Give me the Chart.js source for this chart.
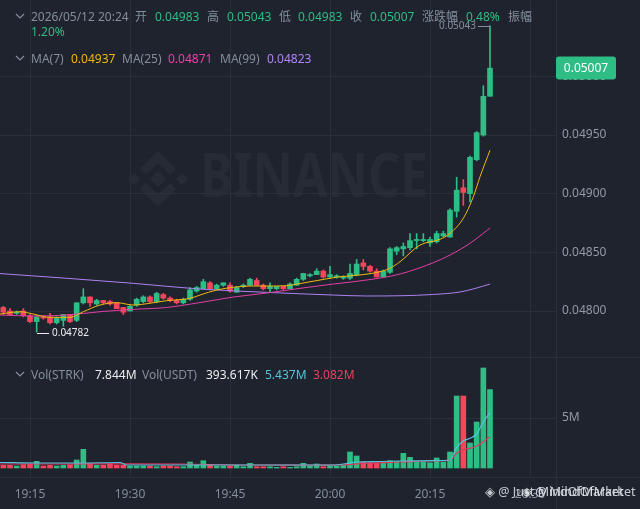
<!DOCTYPE html>
<html>
<head>
<meta charset="utf-8">
<script src="https://cdn.jsdelivr.net/npm/chart.js@4.4.1/dist/chart.umd.min.js"></script>
<style>
html, body { margin: 0; padding: 0; background: #1e232d; width: 640px; height: 509px; overflow: hidden; }
body { font-family: "Noto Sans", "Noto Sans CJK SC", sans-serif; }
#wrap { position: relative; width: 640px; height: 509px; }
#wm { position: absolute; left: 0; top: 0; z-index: 0; }
#pricebox { position: absolute; left: 0; top: 0; width: 640px; height: 357px; z-index: 1; }
#volbox { position: absolute; left: 0; top: 357px; width: 640px; height: 152px; z-index: 1; }
.hl { position: absolute; background: #2a303a; z-index: 1; }
.t { position: absolute; font-size: 12px; line-height: 16px; white-space: nowrap; z-index: 3; }
.g { color: #848e9c; }
.up { color: #2ebd85; }
.w { color: #eaecef; }
.m7 { color: #f0b90b; }
.m25 { color: #eb40a8; }
.m99 { color: #b185f5; }
.vc { color: #56c3db; }
.vr { color: #e8415f; }
.chev { position: absolute; z-index: 3; }
.mark { position: absolute; font-size: 12.5px; color: rgba(226,230,236,0.85); white-space: nowrap; z-index: 3; }
</style>
</head>
<body>
<div id="wrap">
  <svg id="wm" width="640" height="357">
    <g fill="#262b35">
      <polygon points="158,171 166,179 158,187 150,179"/>
      <polygon points="134,173 140,179 134,185 128,179"/>
      <polygon points="182,173 188,179 182,185 176,179"/>
      <polygon points="158,151 176,169 170,175 158,163 146,175 140,169"/>
      <polygon points="158,207 176,189 170,183 158,195 146,183 140,189"/>
      <text x="200" y="197" font-size="61" font-weight="700" font-family="Noto Sans, sans-serif" textLength="228" lengthAdjust="spacingAndGlyphs">BINANCE</text>
    </g>
  </svg>

  <div class="hl" style="left:0;top:357px;width:640px;height:1px"></div>
  <div class="hl" style="left:0;top:477px;width:640px;height:1px"></div>
  <div class="hl" style="left:556px;top:0;width:1px;height:509px"></div>

  <div id="pricebox"><canvas id="price"></canvas></div>
  <div id="volbox"><canvas id="vol"></canvas></div>

  <!-- header: OHLC of the last candle -->
  <svg class="chev" style="left:15px;top:13px" width="10" height="7"><polyline points="1,1 5,5 9,1" fill="none" stroke="#848e9c" stroke-width="1.2"/></svg>
  <div class="t g" style="left:31px;top:9px">2026/05/12 20:24</div>
  <div class="t g" style="left:135px;top:9px">开</div>
  <div class="t up" style="left:155px;top:9px">0.04983</div>
  <div class="t g" style="left:207px;top:9px">高</div>
  <div class="t up" style="left:227px;top:9px">0.05043</div>
  <div class="t g" style="left:279px;top:9px">低</div>
  <div class="t up" style="left:298px;top:9px">0.04983</div>
  <div class="t g" style="left:350px;top:9px">收</div>
  <div class="t up" style="left:370px;top:9px">0.05007</div>
  <div class="t g" style="left:422px;top:9px">涨跌幅</div>
  <div class="t up" style="left:466px;top:9px">0.48%</div>
  <div class="t g" style="left:508px;top:9px">振幅</div>
  <div class="t up" style="left:31px;top:24px">1.20%</div>

  <svg class="chev" style="left:15px;top:55px" width="10" height="7"><polyline points="1,1 5,5 9,1" fill="none" stroke="#848e9c" stroke-width="1.2"/></svg>
  <div class="t g" style="left:31px;top:51px">MA(7)</div>
  <div class="t m7" style="left:71px;top:51px">0.04937</div>
  <div class="t g" style="left:122px;top:51px">MA(25)</div>
  <div class="t m25" style="left:168px;top:51px">0.04871</div>
  <div class="t g" style="left:220px;top:51px">MA(99)</div>
  <div class="t m99" style="left:267px;top:51px">0.04823</div>

  <svg class="chev" style="left:15px;top:371px" width="10" height="7"><polyline points="1,1 5,5 9,1" fill="none" stroke="#848e9c" stroke-width="1.2"/></svg>
  <div class="t g" style="left:31px;top:367px">Vol(STRK)</div>
  <div class="t w" style="left:95px;top:367px">7.844M</div>
  <div class="t g" style="left:142px;top:367px">Vol(USDT)</div>
  <div class="t w" style="left:206px;top:367px">393.617K</div>
  <div class="t vc" style="left:265px;top:367px">5.437M</div>
  <div class="t vr" style="left:313px;top:367px">3.082M</div>

  <div class="mark" style="left:485px;top:483px">◈ @ Just MindOfMarket</div>
  <div class="mark" style="left:522px;top:483px">◈ @ MindOfMarket</div>
</div>

<script>
const GREEN = '#2ebd85';
const RED = '#f6465d';
const GRID = '#2a303a';
const FONT = '"Noto Sans", "Noto Sans CJK SC", sans-serif';

// 1 minute candles, STRK/USDT, first one at 19:11
const firstCandle = '19:11';
const open = [
  0.04803, 0.04800, 0.04798, 0.04800, 0.04796, 0.04791, 0.04795, 0.04795, 0.04790, 0.04792,
  0.04797, 0.04792, 0.04807, 0.04812, 0.04806, 0.04809, 0.04808, 0.04807, 0.04803, 0.04800,
  0.04805, 0.04808, 0.04812, 0.04808, 0.04814, 0.04811, 0.04809, 0.04807, 0.04810, 0.04817,
  0.04819, 0.04824, 0.04819, 0.04822, 0.04822, 0.04816, 0.04821, 0.04822, 0.04826, 0.04822,
  0.04819, 0.04819, 0.04821, 0.04819, 0.04822, 0.04827, 0.04830, 0.04831, 0.04834, 0.04829,
  0.04829, 0.04828, 0.04828, 0.04831, 0.04841, 0.04838, 0.04834, 0.04829, 0.04833, 0.04851,
  0.04853, 0.04854, 0.04860, 0.04860, 0.04858, 0.04859, 0.04864, 0.04863, 0.04885, 0.04905,
  0.04900, 0.04929, 0.04950, 0.04983
];
const high = [
  0.04804, 0.04802, 0.04800, 0.04802, 0.04797, 0.04796, 0.04796, 0.04798, 0.04795, 0.04797,
  0.04797, 0.04807, 0.04819, 0.04812, 0.04810, 0.04809, 0.04809, 0.04807, 0.04803, 0.04805,
  0.04811, 0.04813, 0.04813, 0.04816, 0.04815, 0.04812, 0.04810, 0.04811, 0.04820, 0.04821,
  0.04827, 0.04825, 0.04823, 0.04824, 0.04824, 0.04821, 0.04823, 0.04828, 0.04828, 0.04823,
  0.04824, 0.04821, 0.04821, 0.04824, 0.04828, 0.04832, 0.04832, 0.04836, 0.04835, 0.04838,
  0.04831, 0.04830, 0.04840, 0.04844, 0.04844, 0.04839, 0.04836, 0.04835, 0.04854, 0.04855,
  0.04858, 0.04866, 0.04866, 0.04866, 0.04863, 0.04868, 0.04868, 0.04887, 0.04914, 0.04912,
  0.04932, 0.04953, 0.04992, 0.05043
];
const low = [
  0.04797, 0.04796, 0.04797, 0.04795, 0.04790, 0.04782, 0.04793, 0.04789, 0.04789, 0.04787,
  0.04790, 0.04791, 0.04806, 0.04804, 0.04805, 0.04806, 0.04805, 0.04802, 0.04797, 0.04800,
  0.04804, 0.04807, 0.04807, 0.04807, 0.04810, 0.04808, 0.04806, 0.04806, 0.04809, 0.04816,
  0.04819, 0.04818, 0.04818, 0.04821, 0.04816, 0.04816, 0.04820, 0.04822, 0.04822, 0.04818,
  0.04816, 0.04818, 0.04818, 0.04819, 0.04822, 0.04826, 0.04829, 0.04831, 0.04828, 0.04828,
  0.04828, 0.04827, 0.04827, 0.04830, 0.04835, 0.04833, 0.04829, 0.04829, 0.04832, 0.04848,
  0.04847, 0.04852, 0.04853, 0.04859, 0.04855, 0.04858, 0.04863, 0.04863, 0.04880, 0.04890,
  0.04893, 0.04928, 0.04949, 0.04983
];
const close = [
  0.04799, 0.04797, 0.04799, 0.04796, 0.04791, 0.04795, 0.04794, 0.04790, 0.04794, 0.04797,
  0.04791, 0.04807, 0.04812, 0.04807, 0.04809, 0.04807, 0.04806, 0.04802, 0.04799, 0.04804,
  0.04810, 0.04812, 0.04808, 0.04815, 0.04811, 0.04809, 0.04807, 0.04810, 0.04818, 0.04820,
  0.04825, 0.04819, 0.04822, 0.04824, 0.04817, 0.04820, 0.04822, 0.04827, 0.04822, 0.04819,
  0.04821, 0.04821, 0.04819, 0.04823, 0.04827, 0.04832, 0.04831, 0.04834, 0.04829, 0.04831,
  0.04830, 0.04829, 0.04832, 0.04840, 0.04838, 0.04834, 0.04829, 0.04834, 0.04853, 0.04854,
  0.04855, 0.04860, 0.04861, 0.04861, 0.04861, 0.04866, 0.04866, 0.04886, 0.04903, 0.04901,
  0.04931, 0.04952, 0.04983, 0.05007
];
// volume in millions of STRK
const volume = [
  0.27, 0.27, 0.20, 0.33, 0.40, 0.67, 0.20, 0.27, 0.20, 0.27,
  0.33, 0.80, 1.87, 0.47, 0.27, 0.27, 0.40, 0.27, 0.27, 0.20,
  0.20, 0.20, 0.20, 0.13, 0.20, 0.20, 0.13, 0.13, 0.60, 0.27,
  0.73, 0.27, 0.20, 0.20, 0.20, 0.27, 0.13, 0.47, 0.13, 0.13,
  0.13, 0.07, 0.13, 0.07, 0.13, 0.47, 0.20, 0.40, 0.13, 0.20,
  0.20, 0.27, 1.60, 1.20, 0.60, 0.53, 0.47, 0.60, 0.73, 0.67,
  1.47, 1.07, 0.60, 0.60, 0.53, 1.00, 0.60, 1.60, 7.20, 7.20,
  2.50, 4.60, 10.0, 7.844
];

// moving average lines (x = minutes after 19:00)
const ma7Min = [10.5, 13.5, 15.5, 18, 21, 23, 25.5, 28, 30.5, 33, 35.5, 39, 40.5, 43, 45.5, 48, 50.5, 53.5, 55.5, 58.5, 61.5, 64.5, 67.5, 69, 70.5, 73.5, 76.5, 78, 80, 81.5, 82.5, 84];
const ma7 = [0.047974, 0.047994, 0.047974, 0.047946, 0.047946, 0.047994, 0.048051, 0.048071, 0.048051, 0.048066, 0.048088, 0.048108, 0.048136, 0.048179, 0.048202, 0.048213, 0.048213, 0.048216, 0.048234, 0.048264, 0.048292, 0.048307, 0.048335, 0.048364, 0.04842, 0.048562, 0.048611, 0.048662, 0.04879, 0.048974, 0.049144, 0.04937];
const ma25Min = [10.5, 15.5, 20.5, 25.5, 30.5, 35.5, 40.5, 45.5, 50.5, 55.5, 60.5, 65.5, 70.5, 75.5, 78, 81, 84];
const ma25 = [0.047966, 0.047957, 0.047966, 0.047994, 0.048014, 0.04803, 0.048072, 0.048119, 0.048153, 0.048193, 0.04823, 0.048264, 0.048315, 0.048412, 0.048477, 0.048577, 0.048707];
const ma99Min = [10.5, 20.5, 30.5, 40.5, 50.5, 60.5, 65.5, 70.5, 75.5, 79.5, 81.75, 84];
const ma99 = [0.048319, 0.048279, 0.048236, 0.048187, 0.048159, 0.048136, 0.048128, 0.04813, 0.048141, 0.048162, 0.048192, 0.04823];
const volMaAMin = [10.5, 16.5, 22.5, 28.5, 29.5, 40.5, 49.5, 60.5, 62.5, 64, 67.5, 70.5, 73.5, 77, 78, 79, 80, 81, 82, 83, 84];
const volMaA = [0.55, 0.50, 0.50, 0.55, 0.30, 0.30, 0.30, 0.30, 0.45, 0.60, 0.65, 0.70, 0.72, 0.75, 0.80, 2.07, 2.70, 2.97, 3.40, 4.63, 5.53];
const volMaBMin = [10.5, 19.5, 28.5, 37.5, 46.5, 55.5, 61.5, 66, 70.5, 75, 78, 79, 80, 81, 82, 83, 84];
const volMaB = [0.40, 0.40, 0.42, 0.40, 0.30, 0.28, 0.30, 0.50, 0.60, 0.70, 0.80, 1.47, 1.87, 1.97, 2.20, 2.63, 3.13];

const timeTicks = ['19:15', '19:30', '19:45', '20:00', '20:15', '20:30'];
const priceTicks = [0.048, 0.0485, 0.049, 0.0495, 0.05];
const volTicks = [5];

function toMin(s) {
  const p = s.split(':').map(Number);
  return p[0] * 60 + p[1] - 19 * 60;
}
const start = toMin(firstCandle);
const candleMin = open.map((_, i) => start + i);
const isUp = i => close[i] >= open[i];
const candleColor = c => isUp(c.dataIndex) ? GREEN : RED;
const pts = (xs, ys) => xs.map((x, i) => ({ x: x, y: ys[i] }));

const xMin = 10.5, xMax = 93.9;

// keep the plot area at the exact pane size (no label overhang padding)
function noPad(s) {
  s.paddingTop = 0; s.paddingBottom = 0; s.paddingLeft = 0; s.paddingRight = 0;
}

const markers = {
  id: 'markers',
  afterDraw(chart) {
    const { ctx, scales: { x, y } } = chart;
    let hi = 0, lo = 0;
    high.forEach((v, i) => { if (v > high[hi]) hi = i; });
    low.forEach((v, i) => { if (v < low[lo]) lo = i; });
    ctx.save();
    ctx.font = '10px ' + FONT;
    ctx.textBaseline = 'middle';
    // highest price
    let px = Math.round(x.getPixelForValue(candleMin[hi])), py = Math.round(y.getPixelForValue(high[hi])) + 0.5;
    ctx.strokeStyle = '#848e9c';
    ctx.lineWidth = 1;
    ctx.beginPath(); ctx.moveTo(px - 12, py); ctx.lineTo(px, py); ctx.stroke();
    ctx.fillStyle = '#848e9c';
    ctx.textAlign = 'right';
    ctx.fillText(high[hi].toFixed(5), px - 14, py);
    // lowest price
    px = Math.round(x.getPixelForValue(candleMin[lo])); py = Math.round(y.getPixelForValue(low[lo])) + 1.5;
    ctx.strokeStyle = '#eaecef';
    ctx.beginPath(); ctx.moveTo(px, py); ctx.lineTo(px + 12, py); ctx.stroke();
    ctx.fillStyle = '#eaecef';
    ctx.textAlign = 'left';
    ctx.fillText(low[lo].toFixed(5), px + 15, py);
    // last price tag
    const last = close[close.length - 1];
    const ty = y.getPixelForValue(last);
    ctx.fillStyle = GREEN;
    ctx.beginPath(); ctx.roundRect(556, ty - 11.5, 60, 23, 3); ctx.fill();
    ctx.fillStyle = '#ffffff';
    ctx.font = '12px ' + FONT;
    ctx.textAlign = 'center';
    ctx.fillText(last.toFixed(5), 586, ty);
    ctx.restore();
  }
};

new Chart(document.getElementById('price'), {
  data: {
    datasets: [
      { type: 'line', data: pts(ma7Min, ma7), borderColor: '#f0b90b', borderWidth: 1, pointRadius: 0, cubicInterpolationMode: 'monotone', order: 0 },
      { type: 'line', data: pts(ma25Min, ma25), borderColor: '#e33fa4', borderWidth: 1, pointRadius: 0, cubicInterpolationMode: 'monotone', order: 0 },
      { type: 'line', data: pts(ma99Min, ma99), borderColor: '#ad82f0', borderWidth: 1, pointRadius: 0, cubicInterpolationMode: 'monotone', order: 0 },
      { type: 'bar', data: candleMin.map((m, i) => ({ x: m, y: [low[i], high[i]] })), backgroundColor: candleColor, barThickness: 1, minBarLength: 1, grouped: false, order: 2 },
      { type: 'bar', data: candleMin.map((m, i) => ({ x: m, y: [open[i], close[i]] })), backgroundColor: candleColor, barThickness: 5, minBarLength: 1, grouped: false, order: 1 }
    ]
  },
  options: {
    responsive: true,
    maintainAspectRatio: false,
    animation: false,
    layout: { padding: 0 },
    plugins: { legend: { display: false }, tooltip: { enabled: false } },
    scales: {
      x: {
        type: 'linear', min: xMin, max: xMax, offset: false,
        afterBuildTicks: s => { s.ticks = timeTicks.map(t => ({ value: toMin(t) })); },
        ticks: { display: false },
        grid: { color: GRID, drawTicks: false, offset: false },
        border: { display: false },
        afterFit: s => { s.height = 0; noPad(s); }
      },
      y: {
        position: 'right', min: 0.047608, max: 0.0506506,
        afterBuildTicks: s => { s.ticks = priceTicks.map(v => ({ value: v })); },
        ticks: { color: '#929aa5', font: { size: 12, family: FONT }, padding: 6, callback: v => v.toFixed(5) },
        grid: { color: GRID, drawTicks: false },
        border: { display: false },
        afterFit: s => { s.width = 84; noPad(s); }
      }
    }
  },
  plugins: [markers]
});

new Chart(document.getElementById('vol'), {
  data: {
    datasets: [
      { type: 'line', data: pts(volMaAMin, volMaA), borderColor: '#56c3db', borderWidth: 1.2, pointRadius: 0, cubicInterpolationMode: 'monotone', order: 0 },
      { type: 'line', data: pts(volMaBMin, volMaB), borderColor: '#e0385f', borderWidth: 1.2, pointRadius: 0, cubicInterpolationMode: 'monotone', order: 0 },
      { type: 'bar', data: candleMin.map((m, i) => ({ x: m, y: volume[i] })), backgroundColor: candleColor, barThickness: 5, grouped: false, order: 1 }
    ]
  },
  options: {
    responsive: true,
    maintainAspectRatio: false,
    animation: false,
    layout: { padding: 0 },
    plugins: { legend: { display: false }, tooltip: { enabled: false } },
    scales: {
      x: {
        type: 'linear', min: xMin, max: xMax, offset: false,
        afterBuildTicks: s => { s.ticks = timeTicks.map(t => ({ value: toMin(t) })); },
        ticks: { color: '#848e9c', font: { size: 12, family: FONT }, padding: 10, maxRotation: 0, autoSkip: false,
          callback: (v, i) => timeTicks[i] },
        grid: { color: GRID, drawTicks: false, offset: false },
        border: { display: false },
        afterFit: s => { s.height = 32; noPad(s); }
      },
      y: {
        position: 'right', min: -0.9, max: 11.1,
        afterBuildTicks: s => { s.ticks = volTicks.map(v => ({ value: v })); },
        ticks: { color: '#929aa5', font: { size: 12, family: FONT }, padding: 6, callback: v => v + 'M' },
        grid: { color: GRID, drawTicks: false },
        border: { display: false },
        afterFit: s => { s.width = 84; noPad(s); }
      }
    }
  }
});
</script>
</body>
</html>
